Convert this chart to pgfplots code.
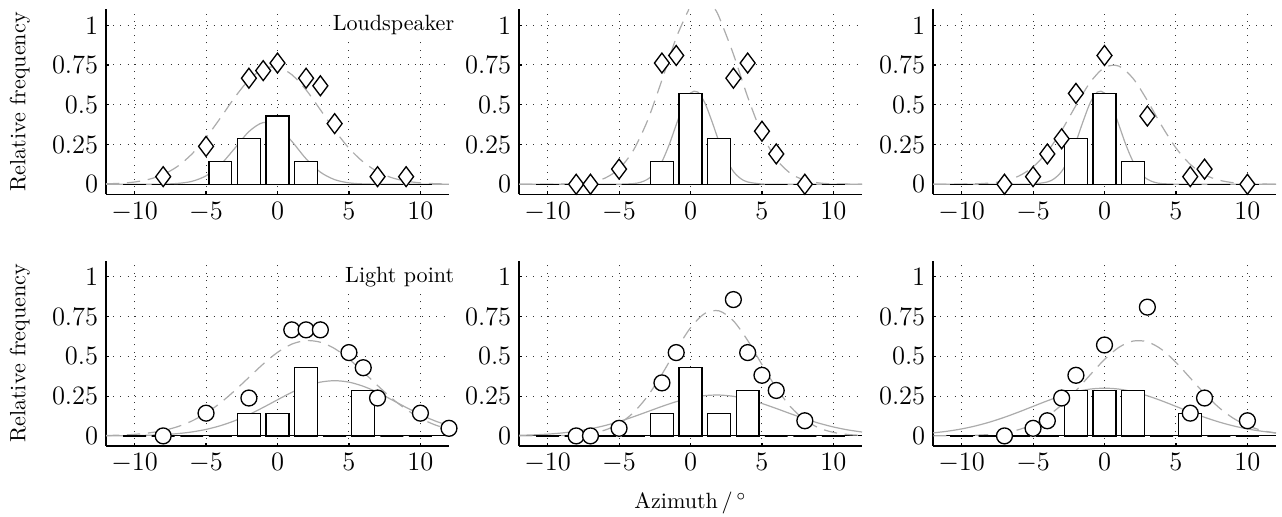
\documentclass[border=0pt]{standalone}
\usepackage{pgfplots}
\pgfplotsset{compat=1.18}

\definecolor{cgray}{RGB}{172,172,172}

\tikzset{tag/.style={anchor=east, inner sep=1pt, fill=white}}

\pgfplotsset{
  panel/.style={
    scale only axis, width=155.2pt, height=83.7pt, anchor=south west,
    xmin=-12, xmax=12, ymin=-0.063, ymax=1.1,
    axis x line*=bottom, axis y line*=left,
    axis line style={black, line width=0.6pt},
    xtick={-10,-5,0,5,10}, ytick={0,0.25,0.5,0.75,1},
    yticklabels={0,0.25,0.5,0.75,1},
    tick label style={font=\large},
    grid=major,
    grid style={black!80, line width=0.45pt, dash pattern=on 0.45pt off 2.8pt},
    tick align=inside, major tick length=1.5pt,
    tick style={black, line width=0.5pt},
    clip=false,
  },
  ylab/.style={ylabel={Relative frequency},
    ylabel style={at={(axis description cs:-0.251,0.5)}, anchor=center, rotate=0}},
  zeroline/.style={black, line width=0.4pt},
  dcurve/.style={cgray, line width=0.55pt, dash pattern=on 6pt off 3.5pt, smooth},
  scurve/.style={cgray, line width=0.55pt, smooth},
  hist/.style={ybar, bar width=1.6, fill=white, draw=black, line width=0.55pt},
  dia/.style={only marks, mark=diamond*, mark size=4.5pt,
    mark options={fill=white, draw=black, line width=0.6pt}},
  circ/.style={only marks, mark=*, mark size=3.6pt,
    mark options={fill=white, draw=black, line width=0.6pt}},
}

\begin{document}
\begin{tikzpicture}
\useasboundingbox (0,0) rectangle (580.1pt,233.9pt);

% ---------- top left: loudspeaker ----------
\begin{axis}[panel, ylab, at={(47.97pt,146.0pt)}]
\addplot[zeroline] coordinates {(-12,0) (12,0)};
\addplot[dcurve] coordinates {
 (-12,0.0024) (-11,0.006) (-10,0.014) (-9,0.031) (-8,0.061) (-7,0.112) (-6,0.189)
 (-5,0.293) (-4,0.416) (-3,0.545) (-2,0.656) (-1,0.725) (0,0.737) (1,0.689)
 (2,0.593) (3,0.468) (4,0.340) (5,0.227) (6,0.140) (7,0.079) (8,0.041)
 (9,0.0196) (10,0.0086) (11,0.0035) (12,0.0013)};
\addplot[scurve] coordinates {
 (-12,0) (-10,0) (-9,0.0002) (-8,0.0011) (-7,0.005) (-6,0.018) (-5,0.053) (-4,0.122)
 (-3,0.225) (-2,0.331) (-1,0.388) (0,0.363) (1,0.270) (2,0.160) (3,0.076)
 (4,0.029) (5,0.0086) (6,0.002) (7,0.0004) (8,0) (10,0) (12,0)};
\addplot[hist] coordinates {
 (-10,0) (-8,0) (-6,0) (-4,0.1429) (-2,0.2857) (0,0.4286) (2,0.1429)
 (4,0) (6,0) (8,0) (10,0)};
\addplot[dia] coordinates {
 (-8,0.0476) (-5,0.2381) (-2,0.6667) (-1,0.7143) (0,0.7619) (2,0.6667)
 (3,0.6190) (4,0.3810) (7,0.0476) (9,0.0476)};
\node[tag] at (axis cs:12.55,1) {Loudspeaker};
\end{axis}

% ---------- top middle ----------
\begin{axis}[panel, at={(234.85pt,146.0pt)}]
\addplot[zeroline] coordinates {(-12,0) (12,0)};
\addplot[dcurve] coordinates {
 (-12,0) (-10,0.0002) (-9,0.001) (-8,0.0038) (-7,0.013) (-6,0.038) (-5,0.097)
 (-4,0.213) (-3,0.402) (-2,0.655) (-1,0.921) (-0.113,1.1)};
\addplot[dcurve] coordinates {
 (1.713,1.1) (2,1.052) (3,0.818) (4,0.549) (5,0.317) (6,0.158) (7,0.068)
 (8,0.025) (9,0.0081) (10,0.0022) (12,0)};
\addplot[scurve] coordinates {
 (-12,0) (-8,0) (-6,0.0001) (-5,0.0003) (-4,0.0041) (-3.5,0.0121) (-3,0.0315)
 (-2.5,0.0716) (-2,0.142) (-1.5,0.247) (-1,0.374) (-0.5,0.496) (0,0.574)
 (0.5,0.580) (1,0.512) (1.5,0.395) (2,0.266) (2.5,0.157) (3,0.0807)
 (3.5,0.0362) (4,0.0142) (5,0.0015) (6,0.0001) (8,0) (12,0)};
\addplot[hist] coordinates {
 (-10,0) (-8,0) (-6,0) (-4,0) (-2,0.1429) (0,0.5714) (2,0.2857)
 (4,0) (6,0) (8,0) (10,0)};
\addplot[dia] coordinates {
 (-8,0) (-7,0) (-5,0.0952) (-2,0.7619) (-1,0.8095) (3,0.6667) (4,0.7619)
 (5,0.3333) (6,0.1905) (8,0)};
\end{axis}

% ---------- top right ----------
\begin{axis}[panel, at={(422.18pt,146.0pt)}]
\addplot[zeroline] coordinates {(-12,0) (12,0)};
\addplot[dcurve] coordinates {
 (-12,0) (-10,0.0007) (-9,0.0026) (-8,0.0079) (-7,0.0214) (-6,0.0514) (-5,0.109)
 (-4,0.204) (-3,0.338) (-2,0.495) (-1,0.641) (0,0.734) (1,0.743) (2,0.665)
 (3,0.526) (4,0.368) (5,0.228) (6,0.125) (7,0.060) (8,0.026) (9,0.0097)
 (10,0.0033) (12,0)};
\addplot[scurve] coordinates {
 (-12,0) (-8,0) (-6,0.0001) (-5,0.0015) (-4,0.0142) (-3.5,0.0362) (-3,0.0807)
 (-2.5,0.157) (-2,0.266) (-1.5,0.395) (-1,0.512) (-0.5,0.580) (0,0.574)
 (0.5,0.496) (1,0.374) (1.5,0.247) (2,0.142) (2.5,0.0716) (3,0.0315)
 (3.5,0.0121) (4,0.0041) (5,0.0003) (6,0.0001) (8,0) (12,0)};
\addplot[hist] coordinates {
 (-10,0) (-8,0) (-6,0) (-4,0) (-2,0.2857) (0,0.5714) (2,0.1429)
 (4,0) (6,0) (8,0) (10,0)};
\addplot[dia] coordinates {
 (-7,0) (-5,0.0476) (-4,0.1905) (-3,0.2857) (-2,0.5714) (0,0.8095)
 (3,0.4286) (6,0.0476) (7,0.0952) (10,0)};
\end{axis}

% ---------- bottom left: light point ----------
\begin{axis}[panel, ylab, at={(47.97pt,32.13pt)}]
\addplot[zeroline] coordinates {(-12,0) (12,0)};
\addplot[dcurve] coordinates {
 (-12,0.0023) (-11,0.0048) (-10,0.0097) (-9,0.0187) (-8,0.0337) (-7,0.0576)
 (-6,0.0933) (-5,0.143) (-4,0.207) (-3,0.284) (-2,0.368) (-1,0.452) (0,0.525)
 (1,0.577) (2,0.599) (3,0.589) (4,0.549) (5,0.483) (6,0.402) (7,0.317)
 (8,0.236) (9,0.167) (10,0.111) (11,0.070) (12,0.042)};
\addplot[scurve] coordinates {
 (-12,0.0004) (-11,0.0009) (-10,0.002) (-9,0.004) (-8,0.0077) (-7,0.0142)
 (-6,0.0247) (-5,0.0408) (-4,0.064) (-3,0.095) (-2,0.134) (-1,0.179) (0,0.227)
 (1,0.274) (2,0.312) (3,0.338) (4,0.347) (5,0.338) (6,0.312) (7,0.274)
 (8,0.227) (9,0.179) (10,0.134) (11,0.095) (12,0.064)};
\addplot[hist] coordinates {
 (-10,0) (-8,0) (-6,0) (-4,0) (-2,0.1429) (0,0.1429) (2,0.4286)
 (4,0) (6,0.2857) (8,0) (10,0)};
\addplot[circ] coordinates {
 (-8,0) (-5,0.1429) (-2,0.2381) (1,0.6667) (2,0.6667) (3,0.6667)
 (5,0.5238) (6,0.4286) (7,0.2381) (10,0.1429) (12,0.0476)};
\node[tag] at (axis cs:12.55,1) {Light point};
\end{axis}

% ---------- bottom middle ----------
\begin{axis}[panel, at={(234.85pt,32.13pt)},
  xlabel={Azimuth\,/\,$^{\circ}$},
  xlabel style={at={(axis description cs:0.5,-0.308)}, anchor=center}]
\addplot[zeroline] coordinates {(-12,0) (12,0)};
\addplot[dcurve] coordinates {
 (-12,0) (-10,0.0006) (-9,0.002) (-8,0.0059) (-7,0.0154) (-6,0.0361) (-5,0.0764)
 (-4,0.1457) (-3,0.2504) (-2,0.3875) (-1,0.5406) (0,0.6797) (1,0.770) (2,0.786)
 (3,0.7235) (4,0.600) (5,0.4483) (6,0.3019) (7,0.1832) (8,0.1002) (9,0.0494)
 (10,0.022) (11,0.0088) (12,0.0032)};
\addplot[scurve] coordinates {
 (-12,0.0035) (-11,0.0063) (-10,0.011) (-9,0.0184) (-8,0.0292) (-7,0.0445)
 (-6,0.0648) (-5,0.0902) (-4,0.120) (-3,0.1526) (-2,0.1853) (-1,0.2152)
 (0,0.2388) (1,0.2533) (2,0.2568) (3,0.2488) (4,0.2303) (5,0.2038) (6,0.1724)
 (7,0.1394) (8,0.1077) (9,0.0795) (10,0.0561) (11,0.0378) (12,0.0244)};
\addplot[hist] coordinates {
 (-10,0) (-8,0) (-6,0) (-4,0) (-2,0.1429) (0,0.4286) (2,0.1429)
 (4,0.2857) (6,0) (8,0) (10,0)};
\addplot[circ] coordinates {
 (-8,0) (-7,0) (-5,0.0476) (-2,0.3333) (-1,0.5238) (3,0.8571) (4,0.5238)
 (5,0.3810) (6,0.2857) (8,0.0952)};
\end{axis}

% ---------- bottom right ----------
\begin{axis}[panel, at={(422.18pt,32.13pt)}]
\addplot[zeroline] coordinates {(-12,0) (12,0)};
\addplot[dcurve] coordinates {
 (-12,0.0002) (-11,0.0006) (-10,0.0016) (-9,0.004) (-8,0.0092) (-7,0.0199)
 (-6,0.0394) (-5,0.0725) (-4,0.1236) (-3,0.1948) (-2,0.2843) (-1,0.3841)
 (0,0.4804) (1,0.5563) (2,0.5963) (3,0.5917) (4,0.5436) (5,0.4622) (6,0.3639)
 (7,0.2652) (8,0.1789) (9,0.1117) (10,0.0646) (11,0.0346) (12,0.0171)};
\addplot[scurve] coordinates {
 (-12,0.0188) (-11,0.0293) (-10,0.0439) (-9,0.0632) (-8,0.0877) (-7,0.117)
 (-6,0.1502) (-5,0.1855) (-4,0.2206) (-3,0.2523) (-2,0.2778) (-1,0.2943)
 (0,0.300) (1,0.2943) (2,0.2778) (3,0.2523) (4,0.2206) (5,0.1855) (6,0.1502)
 (7,0.117) (8,0.0877) (9,0.0632) (10,0.0439) (11,0.0293) (12,0.0188)};
\addplot[hist] coordinates {
 (-10,0) (-8,0) (-6,0) (-4,0) (-2,0.2857) (0,0.2857) (2,0.2857)
 (4,0) (6,0.1429) (8,0) (10,0)};
\addplot[circ] coordinates {
 (-7,0) (-5,0.0476) (-4,0.0952) (-3,0.2381) (-2,0.3810) (0,0.5714)
 (3,0.8095) (6,0.1429) (7,0.2381) (10,0.0952)};
\end{axis}

\end{tikzpicture}
\end{document}
